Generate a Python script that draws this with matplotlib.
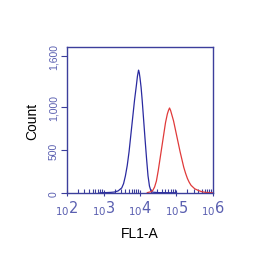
import numpy as np
import matplotlib.pyplot as plt
from matplotlib.ticker import FixedLocator, NullFormatter

plt.rcParams['font.family'] = ['Liberation Sans', 'DejaVu Sans']

# Kontrolle (blau): log10(FL1-A) und Count
blue_log = [2.9, 3.1, 3.2, 3.3, 3.4, 3.5, 3.55, 3.6, 3.65, 3.7, 3.75, 3.8, 3.85, 3.9,
            3.93, 3.96, 3.98, 4.0, 4.03, 4.06, 4.1, 4.14, 4.18, 4.22, 4.26, 4.3, 4.35, 4.5, 5.0]
blue_cnt = [3, 6, 8, 12, 25, 60, 110, 200, 320, 480, 680, 880, 1080, 1250,
            1360, 1430, 1400, 1340, 1230, 1080, 850, 620, 400, 200, 80, 25, 10, 5, 3]

# Probe (rot)
red_log = [4.2, 4.3, 4.35, 4.4, 4.45, 4.5, 4.55, 4.6, 4.65, 4.7, 4.75, 4.78, 4.81, 4.84,
           4.88, 4.92, 4.96, 5.0, 5.05, 5.1, 5.15, 5.2, 5.25, 5.3, 5.35, 5.4, 5.5, 5.6,
           5.7, 5.8, 6.0]
red_cnt = [5, 15, 30, 70, 140, 260, 400, 540, 680, 820, 920, 960, 990, 960,
           900, 840, 760, 680, 580, 480, 390, 300, 230, 170, 125, 90, 50, 30,
           15, 8, 3]

y_ticks = [0, 500, 1000, 1600]
x_exp = [2, 3, 4, 5, 6]

achse = '#3c3f9c'
schrift = '#5a5fb0'

fig = plt.figure(figsize=(2.55, 2.55), dpi=100)
ax = fig.add_axes([0.263, 0.239, 0.572, 0.573])

ax.plot(10**np.array(blue_log), blue_cnt, color='#2a2aa0', lw=0.9)
ax.plot(10**np.array(red_log), red_cnt, color='#e03a3a', lw=0.9)

ax.set_xscale('log')
ax.set_xlim(1e2, 1e6)
ax.set_ylim(0, 1700)

for s in ax.spines.values():
    s.set_color(achse)
    s.set_linewidth(1.0)

ax.yaxis.set_major_locator(FixedLocator(y_ticks))
ax.set_yticklabels([f'{v:,}' for v in y_ticks], rotation=90, va='center',
                   color=schrift, fontsize=7.5)
ax.tick_params(axis='y', direction='out', length=4, color=achse, pad=2)

minor = [m * 10.0**e for e in x_exp[:-1] for m in range(2, 10)]
ax.xaxis.set_major_locator(FixedLocator([10.0**e for e in x_exp]))
ax.xaxis.set_minor_locator(FixedLocator(minor))
ax.xaxis.set_minor_formatter(NullFormatter())
ax.set_xticklabels([r'$_{\mathsf{10}}\mathsf{%d}$' % e for e in x_exp],
                   color=schrift, fontsize=10.5)
ax.tick_params(axis='x', which='major', direction='inout', length=5, color=achse, pad=1)
ax.tick_params(axis='x', which='minor', direction='in', length=3, color=achse, width=0.8)

ax.set_ylabel('Count', fontsize=10, labelpad=7)
ax.set_xlabel('FL1-A', fontsize=10, labelpad=7)

fig.savefig('out.png', dpi=100)
